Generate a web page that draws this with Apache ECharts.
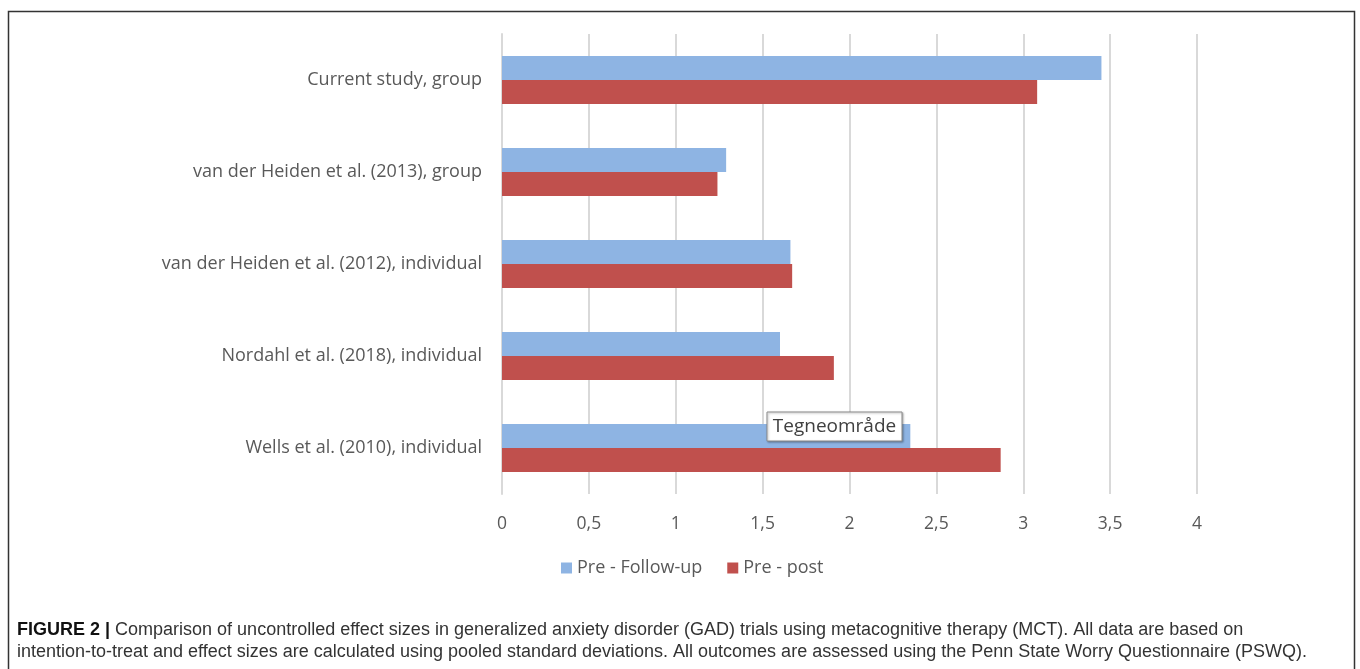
<!DOCTYPE html>
<html><head><meta charset="utf-8">
<script src="https://cdn.jsdelivr.net/npm/echarts@6/dist/echarts.min.js"></script>
<style>html,body{margin:0;padding:0;background:#fff}#c{width:1360px;height:669px}</style>
</head><body><div id="c"></div>
<script>
const categories = ["Current study, group","van der Heiden et al. (2013), group","van der Heiden et al. (2012), individual","Nordahl et al. (2018), individual","Wells et al. (2010), individual"];
const followUp = [3.45, 1.29, 1.66, 1.60, 2.35];
const prePost = [3.08, 1.24, 1.67, 1.91, 2.87];
const xTicks = [0, 0.5, 1, 1.5, 2, 2.5, 3, 3.5, 4];
const seriesNames = ["Pre - Follow-up", "Pre - post"];

const chart = echarts.init(document.getElementById('c'), null, {renderer:'canvas'});
const lblFont = '"Open Sans", "Noto Sans", sans-serif';
chart.setOption({
  animation:false,
  grid:{left:502, right:163, top:34, bottom:175, containLabel:false},
  xAxis:{type:'value', min:xTicks[0], max:xTicks[xTicks.length-1], interval:0.5,
    axisLine:{show:false}, axisTick:{show:false},
    splitLine:{lineStyle:{color:'#d9d9d9', width:2}},
    axisLabel:{margin:21, color:'#595959', fontSize:17.5, fontFamily:lblFont,
      formatter:v=>String(v).replace('.',',')}},
  yAxis:{type:'category', data:categories, inverse:true,
    axisLine:{show:true, lineStyle:{color:'#d9d9d9', width:2}}, axisTick:{show:false},
    axisLabel:{margin:20, color:'#595959', fontSize:18, fontFamily:lblFont, padding:[4,0,0,0]}},
  legend:{left:556, top:554, itemWidth:11, itemHeight:11, itemGap:25, icon:'rect',
    textStyle:{color:'#595959', fontSize:18, fontFamily:lblFont},
    data:seriesNames},
  series:[
    {name:seriesNames[0], type:'bar', data:followUp, barWidth:24, barGap:'0%', itemStyle:{color:'#8eb4e3'}},
    {name:seriesNames[1], type:'bar', data:prePost, barWidth:24, barGap:'0%', itemStyle:{color:'#c0504d'}}
  ],
  graphic:[
    {type:'rect', shape:{x:8.5, y:11.5, width:1346, height:700}, style:{fill:null, stroke:'#333', lineWidth:1.5}, silent:true},
    {type:'rect', shape:{x:767, y:412, width:135, height:29}, style:{fill:'#fff', stroke:'#8a8a8a', lineWidth:1, shadowBlur:2, shadowOffsetX:1, shadowOffsetY:1, shadowColor:'rgba(0,0,0,0.3)'}, z:100},
    {type:'text', x:834.5, y:427, style:{text:'Tegneområde', fill:'#404040', font:'19px "Open Sans", sans-serif', align:'center', verticalAlign:'middle'}, z:101},
    {type:'text', x:17, y:630, style:{rich:{b:{fontWeight:'bold', fontSize:18, fontFamily:'"Liberation Sans", Arial', fill:'#111'}, n:{fontSize:18, fontFamily:'"Liberation Sans", Arial', fill:'#333'}},
      text:'{b|FIGURE 2 |}{n| Comparison of uncontrolled effect sizes in generalized anxiety disorder (GAD) trials using metacognitive therapy (MCT). All data are based on}', verticalAlign:'middle'}},
    {type:'text', x:17, y:652, style:{text:'intention-to-treat and effect sizes are calculated using pooled standard deviations. All outcomes are assessed using the Penn State Worry Questionnaire (PSWQ).', fontSize:18, fontFamily:'"Liberation Sans", Arial', fill:'#333', verticalAlign:'middle'}}
  ]
});
</script></body></html>
